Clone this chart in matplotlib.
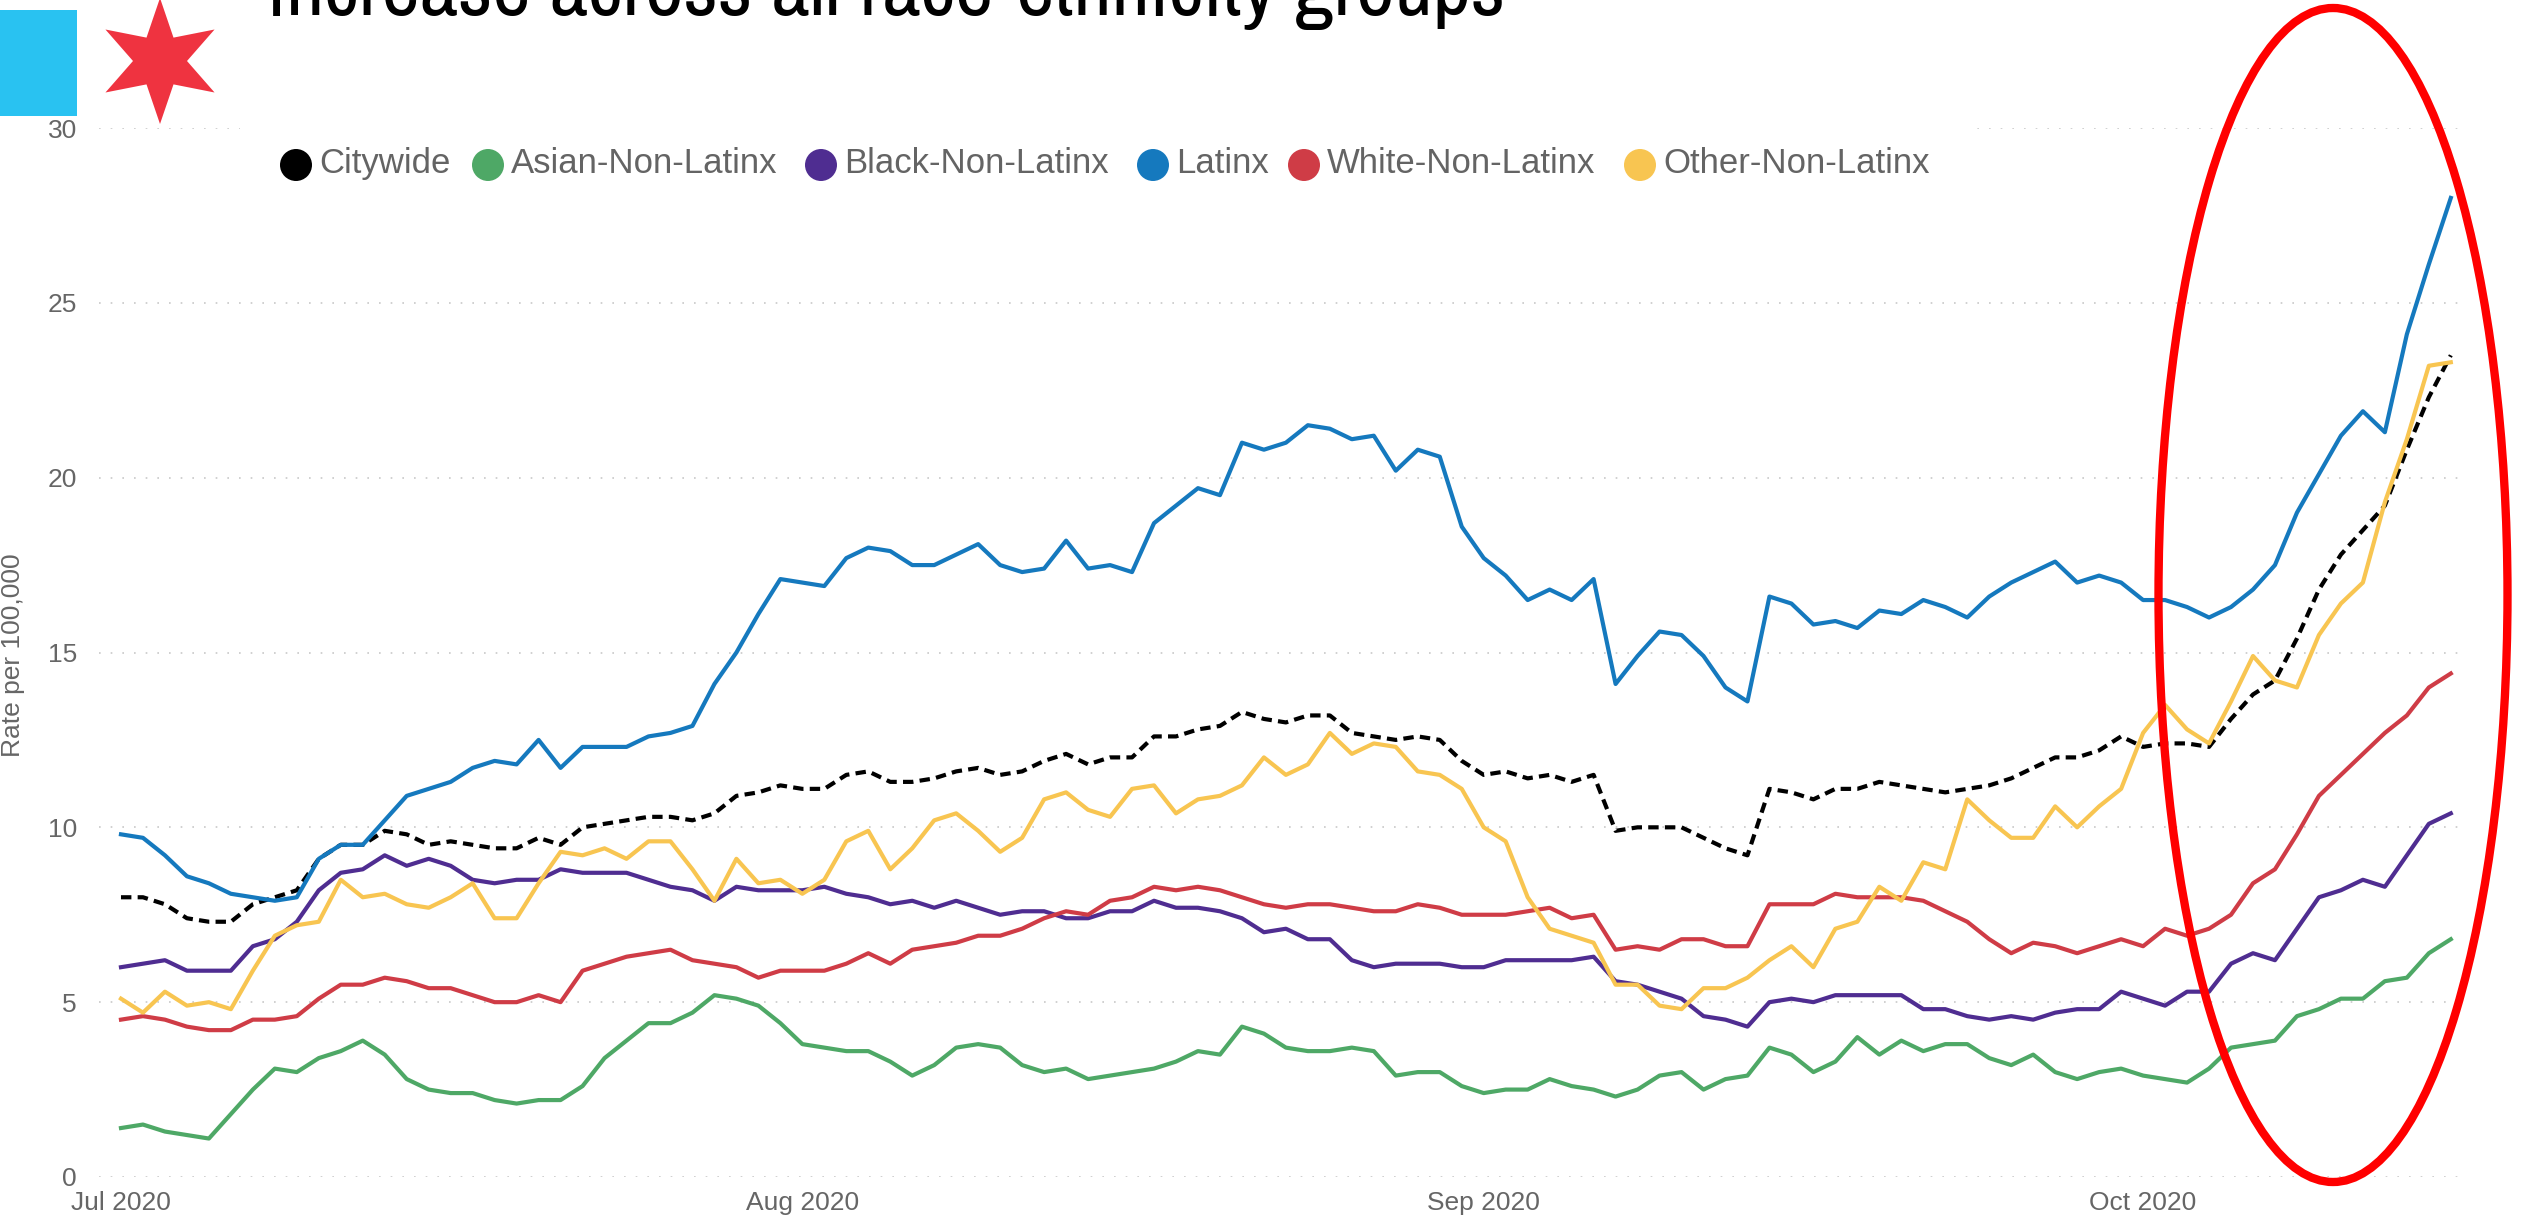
import numpy as np
import pandas as pd
import matplotlib
matplotlib.use("Agg")
import matplotlib.pyplot as plt
import matplotlib.dates as mdates
from matplotlib.patches import Ellipse, Rectangle, Polygon
from matplotlib import font_manager

# daily rate per 100,000, Jul 1 - Oct 15 2020
dates = pd.date_range("2020-07-01", "2020-10-15", freq="D")

citywide = [8.0, 8.0, 7.8, 7.4, 7.3, 7.3, 7.8, 8.0, 8.2, 9.1, 9.5, 9.5, 9.9, 9.8, 9.5, 9.6, 9.5, 9.4, 9.4,
            9.7, 9.5, 10.0, 10.1, 10.2, 10.3, 10.3, 10.2, 10.4, 10.9, 11.0, 11.2, 11.1, 11.1, 11.5, 11.6, 11.3, 11.3,
            11.4, 11.6, 11.7, 11.5, 11.6, 11.9, 12.1, 11.8, 12.0, 12.0, 12.6, 12.6, 12.8, 12.9, 13.3, 13.1, 13.0, 13.2,
            13.2, 12.7, 12.6, 12.5, 12.6, 12.5, 11.9, 11.5, 11.6, 11.4, 11.5, 11.3, 11.5, 9.9, 10.0, 10.0, 10.0, 9.7,
            9.4, 9.2, 11.1, 11.0, 10.8, 11.1, 11.1, 11.3, 11.2, 11.1, 11.0, 11.1, 11.2, 11.4, 11.7, 12.0, 12.0, 12.2, 12.6,
            12.3, 12.4, 12.4, 12.3, 13.1, 13.8, 14.2, 15.4, 16.8, 17.8, 18.5, 19.2, 20.8, 22.3, 23.5]
asian = [1.4, 1.5, 1.3, 1.2, 1.1, 1.8, 2.5, 3.1, 3.0, 3.4, 3.6, 3.9, 3.5, 2.8, 2.5, 2.4, 2.4, 2.2, 2.1,
         2.2, 2.2, 2.6, 3.4, 3.9, 4.4, 4.4, 4.7, 5.2, 5.1, 4.9, 4.4, 3.8, 3.7, 3.6, 3.6, 3.3, 2.9,
         3.2, 3.7, 3.8, 3.7, 3.2, 3.0, 3.1, 2.8, 2.9, 3.0, 3.1, 3.3, 3.6, 3.5, 4.3, 4.1, 3.7, 3.6,
         3.6, 3.7, 3.6, 2.9, 3.0, 3.0, 2.6, 2.4, 2.5, 2.5, 2.8, 2.6, 2.5, 2.3, 2.5, 2.9, 3.0, 2.5,
         2.8, 2.9, 3.7, 3.5, 3.0, 3.3, 4.0, 3.5, 3.9, 3.6, 3.8, 3.8, 3.4, 3.2, 3.5, 3.0, 2.8, 3.0, 3.1,
         2.9, 2.8, 2.7, 3.1, 3.7, 3.8, 3.9, 4.6, 4.8, 5.1, 5.1, 5.6, 5.7, 6.4, 6.8]
black = [6.0, 6.1, 6.2, 5.9, 5.9, 5.9, 6.6, 6.8, 7.3, 8.2, 8.7, 8.8, 9.2, 8.9, 9.1, 8.9, 8.5, 8.4, 8.5,
         8.5, 8.8, 8.7, 8.7, 8.7, 8.5, 8.3, 8.2, 7.9, 8.3, 8.2, 8.2, 8.2, 8.3, 8.1, 8.0, 7.8, 7.9,
         7.7, 7.9, 7.7, 7.5, 7.6, 7.6, 7.4, 7.4, 7.6, 7.6, 7.9, 7.7, 7.7, 7.6, 7.4, 7.0, 7.1, 6.8,
         6.8, 6.2, 6.0, 6.1, 6.1, 6.1, 6.0, 6.0, 6.2, 6.2, 6.2, 6.2, 6.3, 5.6, 5.5, 5.3, 5.1, 4.6,
         4.5, 4.3, 5.0, 5.1, 5.0, 5.2, 5.2, 5.2, 5.2, 4.8, 4.8, 4.6, 4.5, 4.6, 4.5, 4.7, 4.8, 4.8, 5.3,
         5.1, 4.9, 5.3, 5.3, 6.1, 6.4, 6.2, 7.1, 8.0, 8.2, 8.5, 8.3, 9.2, 10.1, 10.4]
latinx = [9.8, 9.7, 9.2, 8.6, 8.4, 8.1, 8.0, 7.9, 8.0, 9.1, 9.5, 9.5, 10.2, 10.9, 11.1, 11.3, 11.7, 11.9, 11.8,
          12.5, 11.7, 12.3, 12.3, 12.3, 12.6, 12.7, 12.9, 14.1, 15.0, 16.1, 17.1, 17.0, 16.9, 17.7, 18.0, 17.9, 17.5,
          17.5, 17.8, 18.1, 17.5, 17.3, 17.4, 18.2, 17.4, 17.5, 17.3, 18.7, 19.2, 19.7, 19.5, 21.0, 20.8, 21.0, 21.5,
          21.4, 21.1, 21.2, 20.2, 20.8, 20.6, 18.6, 17.7, 17.2, 16.5, 16.8, 16.5, 17.1, 14.1, 14.9, 15.6, 15.5, 14.9,
          14.0, 13.6, 16.6, 16.4, 15.8, 15.9, 15.7, 16.2, 16.1, 16.5, 16.3, 16.0, 16.6, 17.0, 17.3, 17.6, 17.0, 17.2, 17.0,
          16.5, 16.5, 16.3, 16.0, 16.3, 16.8, 17.5, 19.0, 20.1, 21.2, 21.9, 21.3, 24.1, 26.1, 28.0]
white = [4.5, 4.6, 4.5, 4.3, 4.2, 4.2, 4.5, 4.5, 4.6, 5.1, 5.5, 5.5, 5.7, 5.6, 5.4, 5.4, 5.2, 5.0, 5.0,
         5.2, 5.0, 5.9, 6.1, 6.3, 6.4, 6.5, 6.2, 6.1, 6.0, 5.7, 5.9, 5.9, 5.9, 6.1, 6.4, 6.1, 6.5,
         6.6, 6.7, 6.9, 6.9, 7.1, 7.4, 7.6, 7.5, 7.9, 8.0, 8.3, 8.2, 8.3, 8.2, 8.0, 7.8, 7.7, 7.8,
         7.8, 7.7, 7.6, 7.6, 7.8, 7.7, 7.5, 7.5, 7.5, 7.6, 7.7, 7.4, 7.5, 6.5, 6.6, 6.5, 6.8, 6.8,
         6.6, 6.6, 7.8, 7.8, 7.8, 8.1, 8.0, 8.0, 8.0, 7.9, 7.6, 7.3, 6.8, 6.4, 6.7, 6.6, 6.4, 6.6, 6.8,
         6.6, 7.1, 6.9, 7.1, 7.5, 8.4, 8.8, 9.8, 10.9, 11.5, 12.1, 12.7, 13.2, 14.0, 14.4]
other = [5.1, 4.7, 5.3, 4.9, 5.0, 4.8, 5.9, 6.9, 7.2, 7.3, 8.5, 8.0, 8.1, 7.8, 7.7, 8.0, 8.4, 7.4, 7.4,
         8.4, 9.3, 9.2, 9.4, 9.1, 9.6, 9.6, 8.8, 7.9, 9.1, 8.4, 8.5, 8.1, 8.5, 9.6, 9.9, 8.8, 9.4,
         10.2, 10.4, 9.9, 9.3, 9.7, 10.8, 11.0, 10.5, 10.3, 11.1, 11.2, 10.4, 10.8, 10.9, 11.2, 12.0, 11.5, 11.8,
         12.7, 12.1, 12.4, 12.3, 11.6, 11.5, 11.1, 10.0, 9.6, 8.0, 7.1, 6.9, 6.7, 5.5, 5.5, 4.9, 4.8, 5.4,
         5.4, 5.7, 6.2, 6.6, 6.0, 7.1, 7.3, 8.3, 7.9, 9.0, 8.8, 10.8, 10.2, 9.7, 9.7, 10.6, 10.0, 10.6, 11.1,
         12.7, 13.5, 12.8, 12.4, 13.6, 14.9, 14.2, 14.0, 15.5, 16.4, 17.0, 19.3, 21.1, 23.2, 23.3]

names = ["Citywide", "Asian-Non-Latinx", "Black-Non-Latinx", "Latinx", "White-Non-Latinx", "Other-Non-Latinx"]
values = [citywide, asian, black, latinx, white, other]
colors = ["#000000", "#4ea866", "#4f2d91", "#1579be", "#cf3c46", "#f8c551"]

W, H = 2521, 1224


def fx(x):
    return x / W


def fy(y):
    # y measured in pixels from the top of the picture
    return 1 - y / H


fig = plt.figure(figsize=(W / 100, H / 100), dpi=100)
ax = fig.add_axes([fx(99), fy(1177), (2464 - 99) / W, (1177 - 128) / H])

for i, (name, vals, col) in enumerate(zip(names, values, colors)):
    if name == "Citywide":
        ax.plot(dates, vals, color=col, lw=3, linestyle=(0, (2.5, 1.5)), zorder=2 + i)
    else:
        ax.plot(dates, vals, color=col, lw=3, zorder=2 + i, solid_joinstyle="round")

ax.set_xlim(dates[0] - pd.Timedelta(days=1.0), dates[0] + pd.Timedelta(days=106.6))
ax.set_ylim(0, 30)
ax.set_yticks(range(0, 31, 5))
ax.xaxis.set_major_locator(mdates.MonthLocator())
ax.xaxis.set_major_formatter(mdates.DateFormatter("%b %Y"))

for s in ax.spines.values():
    s.set_visible(False)
ax.tick_params(axis="both", length=0, labelsize=19, labelcolor="#666666")
ax.tick_params(axis="y", pad=16)
ax.tick_params(axis="x", pad=10)
for lab in ax.get_xticklabels() + ax.get_yticklabels():
    lab.set_family("Liberation Sans")
ax.yaxis.grid(True, color="#c8c8c8", linestyle=(0, (1, 6)), linewidth=1.2)
ax.set_axisbelow(True)

fig.text(fx(13), fy(655), "Rate per 100,000", rotation=90, ha="center", va="center",
         fontsize=19, color="#666666", family="Liberation Sans")

# legend area hides the top gridline
fig.add_artist(Rectangle((fx(240), fy(205)), (1972 - 240) / W, 90 / H,
                         transform=fig.transFigure, facecolor="white", edgecolor="none", zorder=3))
dot_x = [296, 488, 821, 1153, 1304, 1640]
for name, col, dx in zip(names, colors, dot_x):
    fig.add_artist(Ellipse((fx(dx), fy(165)), 32 / W, 32 / H, transform=fig.transFigure,
                           facecolor=col, edgecolor="none", zorder=4))
    fig.text(fx(dx + 23), fy(173), name, ha="left", va="baseline", fontsize=25,
             color="#646464", family="Liberation Sans", zorder=4)

# header decorations
fig.add_artist(Rectangle((0, fy(116)), 77 / W, 106 / H, transform=fig.transFigure,
                         facecolor="#29c2f1", edgecolor="none", zorder=5))
ang = np.deg2rad(90 + 30 * np.arange(12))
rad = np.where(np.arange(12) % 2 == 0, 63, 27)
star = np.column_stack([fx(160 + rad * np.cos(ang)), fy(61 - rad * np.sin(ang))])
fig.add_artist(Polygon(star, closed=True, transform=fig.transFigure,
                       facecolor="#ef3340", edgecolor="none", zorder=5))

font_names = {f.name for f in font_manager.fontManager.ttflist}
narrow = sorted(n for n in font_names if "Narrow" in n or "Condensed" in n)
title_family = narrow[0] if narrow else "Liberation Sans"
title = fig.text(fx(267), fy(15), "increase across all race-ethnicity groups", ha="left", va="baseline",
                 fontsize=50, fontweight="bold", family=[title_family, "DejaVu Sans"], color="black", zorder=5)
fig.canvas.draw()
bb = title.get_window_extent()
title.set_fontsize(50 * (1505 - 267) / bb.width)

# red highlight ellipse
fig.add_artist(Ellipse((fx(2333), fy(595)), 349 / W, 1174 / H, transform=fig.transFigure,
                       facecolor="none", edgecolor="#ff0000", lw=6, zorder=10))

fig.savefig("out.png", dpi=100)
